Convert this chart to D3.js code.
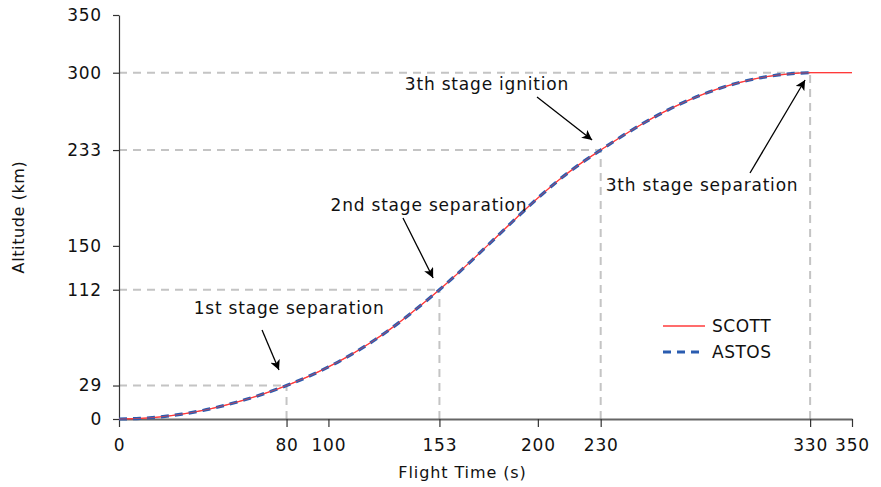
<!DOCTYPE html>
<html>
<head>
<meta charset="utf-8">
<script src="https://cdn.jsdelivr.net/npm/d3@7"></script>
<style>
  html, body { margin: 0; padding: 0; background: #fff; }
  svg { display: block; font-family: "DejaVu Sans", sans-serif; }
</style>
</head>
<body>
<svg id="chart" width="881" height="487"></svg>
<script>
// ---- Data ----
const timeSCOTT = [0,10,20,30,40,50,60,70,80,90,100,110,120,130,140,153,160,170,180,190,200,210,220,230,240,250,260,270,280,290,300,310,320,330,340,350];
const altSCOTT  = [0,0.5,1.9,4.2,7.4,11.6,16.6,22.4,29,36.5,45.1,54.9,66,78.5,92.5,112,123.2,140,157.3,174.6,191.4,207,220.8,233,244.8,255.8,265.8,274.6,282.1,288.3,293.2,296.8,299,300,300,300];
const timeASTOS = [0,10,20,30,40,50,60,70,80,90,100,110,120,130,140,153,160,170,180,190,200,210,220,230,240,250,260,270,280,290,300,310,320,330];
const altASTOS  = [0,0.5,1.9,4.2,7.4,11.6,16.6,22.4,29,36.5,45.1,54.9,66,78.5,92.5,112,123.2,140,157.3,174.6,191.4,207,220.8,233,244.8,255.8,265.8,274.6,282.1,288.3,293.2,296.8,299,300];

const xTicks = [0,80,100,153,200,230,330,350];
const yTicks = [0,29,112,150,233,300,350];

// guide lines (event points)
const eventTime = [80,153,230,330];
const eventAlt  = [29,112,233,300];

// annotations: label, text anchor (t,h), arrow start (t,h), arrow tip (t,h)
const annLabels = ["1st stage separation","2nd stage separation","3th stage ignition","3th stage separation"];
const annTextT  = [81.2,148,175.7,278.4];
const annTextH  = [91,180.2,285,197.5];
const annFromT  = [68.3,135.6,199.6,301.3];
const annFromH  = [77.1,174.1,279,213.1];
const annToT    = [76.4,150,225.9,327.6];
const annToH    = [42.4,122.2,241.7,293.7];

const seriesNames = ["SCOTT","ASTOS"];

// ---- Layout ----
const W = 881, H = 487;
const margin = {left:119, right:29, top:15, bottom:68};
const svg = d3.select("#chart");
const x = d3.scaleLinear().domain([0,350]).range([margin.left, W - margin.right]);
const y = d3.scaleLinear().domain([0,350]).range([H - margin.bottom, margin.top]);

const font = "DejaVu Sans, sans-serif";

// guides
const guides = svg.append("g");
eventTime.forEach((t,i) => {
  guides.append("line")
    .attr("x1", x(0)).attr("x2", x(t)).attr("y1", y(eventAlt[i])).attr("y2", y(eventAlt[i]))
    .attr("stroke","#c4c4c4").attr("stroke-width",2).attr("stroke-dasharray","8,6");
  guides.append("line")
    .attr("x1", x(t)).attr("x2", x(t)).attr("y1", y(0)).attr("y2", y(eventAlt[i]))
    .attr("stroke","#c4c4c4").attr("stroke-width",2).attr("stroke-dasharray","8,6");
});

// axes
const xAxis = svg.append("g").attr("transform", `translate(0,${y(0)})`)
  .call(d3.axisBottom(x).tickValues(xTicks).tickSize(8).tickSizeOuter(0).tickPadding(12));
xAxis.select(".domain").attr("stroke","#666").attr("stroke-width",2);
xAxis.selectAll(".tick line").attr("stroke","#333").attr("stroke-width",1.2);
xAxis.selectAll("text").attr("font-size",17).attr("font-family",font).attr("fill","#111").attr("letter-spacing",0.8);

const yAxis = svg.append("g").attr("transform", `translate(${x(0)},0)`)
  .call(d3.axisLeft(y).tickValues(yTicks).tickSize(6).tickSizeOuter(0).tickPadding(11));
yAxis.select(".domain").attr("stroke","#333").attr("stroke-width",1.2);
yAxis.selectAll(".tick line").attr("stroke","#333").attr("stroke-width",1.2);
yAxis.selectAll("text").attr("font-size",17).attr("font-family",font).attr("fill","#111").attr("letter-spacing",0.8);

// axis titles
svg.append("text").attr("x", (x(0)+x(350))/2 - 23).attr("y", 478)
  .attr("text-anchor","middle").attr("font-size",16).attr("font-family",font).attr("fill","#111")
  .attr("letter-spacing",0.9).text("Flight Time (s)");
svg.append("text").attr("transform", `translate(24,${(y(0)+y(350))/2}) rotate(-90)`)
  .attr("text-anchor","middle").attr("font-size",16).attr("font-family",font).attr("fill","#111")
  .attr("letter-spacing",0.6).text("Altitude (km)");

// lines
const line = d3.line().x(d => x(d[0])).y(d => y(d[1])).curve(d3.curveMonotoneX);
const scott = timeSCOTT.map((t,i) => [t, altSCOTT[i]]);
const astos = timeASTOS.map((t,i) => [t, altASTOS[i]]);

svg.append("path").datum(scott).attr("d", line)
  .attr("fill","none").attr("stroke","#ff3b3b").attr("stroke-width",1.3);
svg.append("path").datum(astos).attr("d", line)
  .attr("fill","none").attr("stroke","#2a5cb0").attr("stroke-width",3.2).attr("stroke-dasharray","8,6");
svg.append("path").datum(scott).attr("d", line)
  .attr("fill","none").attr("stroke","#ff3b3b").attr("stroke-width",1).attr("opacity",0.6);

// arrow marker
svg.append("defs").append("marker").attr("id","arrow")
  .attr("viewBox","0 0 10 10").attr("refX",10).attr("refY",5)
  .attr("markerWidth",10).attr("markerHeight",10).attr("markerUnits","userSpaceOnUse")
  .attr("orient","auto")
  .append("path").attr("d","M0,0 L10,5 L0,10 L2.5,5 Z").attr("fill","#000");

// annotations
annLabels.forEach((lab,i) => {
  svg.append("line")
    .attr("x1", x(annFromT[i])).attr("y1", y(annFromH[i]))
    .attr("x2", x(annToT[i])).attr("y2", y(annToH[i]))
    .attr("stroke","#000").attr("stroke-width",1.3).attr("marker-end","url(#arrow)");
  svg.append("text").attr("x", x(annTextT[i])).attr("y", y(annTextH[i]))
    .attr("text-anchor","middle").attr("font-size",17).attr("font-family",font).attr("fill","#111")
    .attr("letter-spacing",0.8).text(lab);
});

// legend
const lg = svg.append("g").attr("transform","translate(663,326)");
lg.append("line").attr("x1",0).attr("x2",42).attr("y1",0).attr("y2",0)
  .attr("stroke","#ff3b3b").attr("stroke-width",1.3);
lg.append("line").attr("x1",0).attr("x2",42).attr("y1",26).attr("y2",26)
  .attr("stroke","#2a5cb0").attr("stroke-width",3).attr("stroke-dasharray","8,6");
seriesNames.forEach((n,i) => {
  lg.append("text").attr("x",49).attr("y", i*26 + 6)
    .attr("font-size",17).attr("font-family",font).attr("fill","#111").attr("letter-spacing",0.5).text(n);
});
</script>
</body>
</html>
